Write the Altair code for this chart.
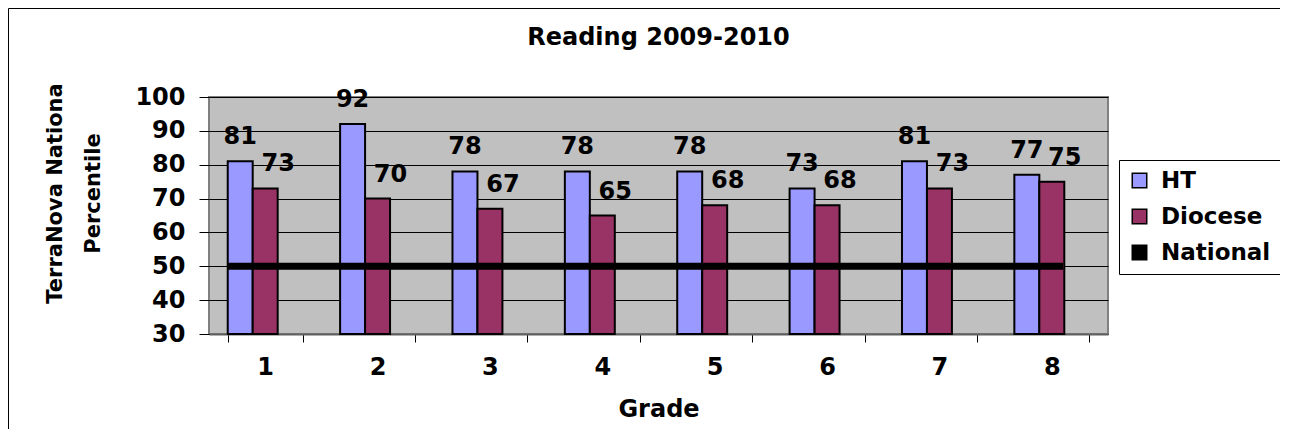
import altair as alt
import pandas as pd

GRADES = ["1", "2", "3", "4", "5", "6", "7", "8"]
HT = [81, 92, 78, 78, 78, 73, 81, 77]
DIOCESE = [73, 70, 67, 65, 68, 68, 73, 75]
NATIONAL = [50, 50, 50, 50, 50, 50, 50, 50]
SERIES = ["HT", "Diocese", "National"]
COLORS = ["#9999FF", "#993366", "#000000"]
Y_TICKS = [30, 40, 50, 60, 70, 80, 90, 100]

FONT = "DejaVu Sans"
FS = 24

rows = []
for g, h, d in zip(GRADES, HT, DIOCESE):
    rows.append({"grade": g, "series": "HT", "value": h})
    rows.append({"grade": g, "series": "Diocese", "value": d})
df = pd.DataFrame(rows)

W, H = 899, 237

x_enc = alt.X(
    "grade:N",
    sort=GRADES,
    scale=alt.Scale(domain=GRADES, paddingInner=1 / 3, paddingOuter=1 / 6),
    axis=alt.Axis(
        title="Grade",
        labelAngle=0,
        tickBand="extent",
        tickSize=8,
        tickColor="black",
        labelPadding=13,
        labelFontSize=FS,
        labelFont=FONT,
        labelFontWeight="bold",
        titleFontSize=FS,
        titleFont=FONT,
        titleFontWeight="bold",
        titlePadding=18,
        domainColor="#606060",
        domainWidth=2,
        grid=False,
    ),
)
xoff_enc = alt.XOffset(
    "series:N",
    scale=alt.Scale(domain=SERIES, paddingInner=0, paddingOuter=0),
)
y_scale = alt.Scale(domain=[30, 100], nice=False, zero=False)
y_enc = alt.Y(
    "value:Q",
    scale=y_scale,
    axis=alt.Axis(
        values=Y_TICKS,
        tickCount=len(Y_TICKS) + 2,
        labelOverlap=False,
        title=["TerraNova Nationa", "Percentile"],
        titleFont=FONT,
        titleFontWeight="bold",
        titleFontSize=21,
        titleLineHeight=38,
        titleAngle=-90,
        titleAlign="center",
        titleBaseline="middle",
        titleX=-154,
        titleY=96,
        tickSize=10,
        tickColor="black",
        labelPadding=14,
        labelFontSize=FS,
        labelFont=FONT,
        labelFontWeight="bold",
        domain=False,
        gridColor="black",
        gridWidth=1,
    ),
)
color_enc = alt.Color(
    "series:N",
    scale=alt.Scale(domain=SERIES, range=COLORS),
    legend=alt.Legend(
        title=None,
        orient="none",
        legendX=910,
        legendY=63,
        strokeColor="black",
        fillColor="white",
        padding=9,
        rowPadding=12,
        symbolType="square",
        symbolSize=210,
        symbolStrokeColor="black",
        symbolStrokeWidth=1.5,
        labelFontSize=23,
        labelFont=FONT,
        labelFontWeight="bold",
        labelOffset=10,
    ),
)

base = alt.Chart(df)

bars = base.mark_bar(stroke="black", strokeWidth=2).encode(
    x=x_enc, xOffset=xoff_enc, y=y_enc, y2=alt.datum(30), color=color_enc
)

label_ht = (
    base.transform_filter(alt.datum.series == "HT")
    .mark_text(dy=-24, baseline="middle", font=FONT, fontWeight="bold", fontSize=FS, color="black")
    .encode(x=x_enc, xOffset=xoff_enc, y=y_enc, text="value:Q")
)
label_dio = (
    base.transform_filter(alt.datum.series == "Diocese")
    .mark_text(dy=-24, dx=13, baseline="middle", font=FONT, fontWeight="bold", fontSize=FS, color="black")
    .encode(x=x_enc, xOffset=xoff_enc, y=y_enc, text="value:Q")
)

national = alt.Chart(pd.DataFrame({"value": [NATIONAL[0]]})).mark_rule(
    color="black", strokeWidth=7
).encode(
    x=alt.X(datum=GRADES[0], bandPosition=0),
    x2=alt.X2Datum(datum=GRADES[-1], bandPosition=0.65),
    y=y_enc,
)

frame_left = alt.Chart(pd.DataFrame({"a": [0]})).mark_rule(color="black", strokeWidth=1).encode(
    x=alt.value(-200.5), y=alt.value(-88.5), y2=alt.value(345)
)
frame_top = alt.Chart(pd.DataFrame({"a": [0]})).mark_rule(color="black", strokeWidth=1).encode(
    x=alt.value(-200.5), x2=alt.value(1071), y=alt.value(-88.5)
)

chart = (
    alt.layer(bars, national, label_ht, label_dio, frame_left, frame_top)
    .properties(
        width=W,
        height=H,
        title=alt.TitleParams(
            "Reading 2009-2010",
            font=FONT,
            fontSize=FS,
            fontWeight="bold",
            anchor="middle",
            offset=-42,
            color="black",
        ),
        autosize=alt.AutoSizeParams(type="none"),
        padding={"left": 201, "top": 89, "right": 172, "bottom": 95},
        view=alt.ViewBackground(fill="#C0C0C0", stroke="#808080", strokeWidth=2),
    )
    .configure(background="white")
)

chart.save("out.html", embed_options={"renderer": "svg", "actions": False})
